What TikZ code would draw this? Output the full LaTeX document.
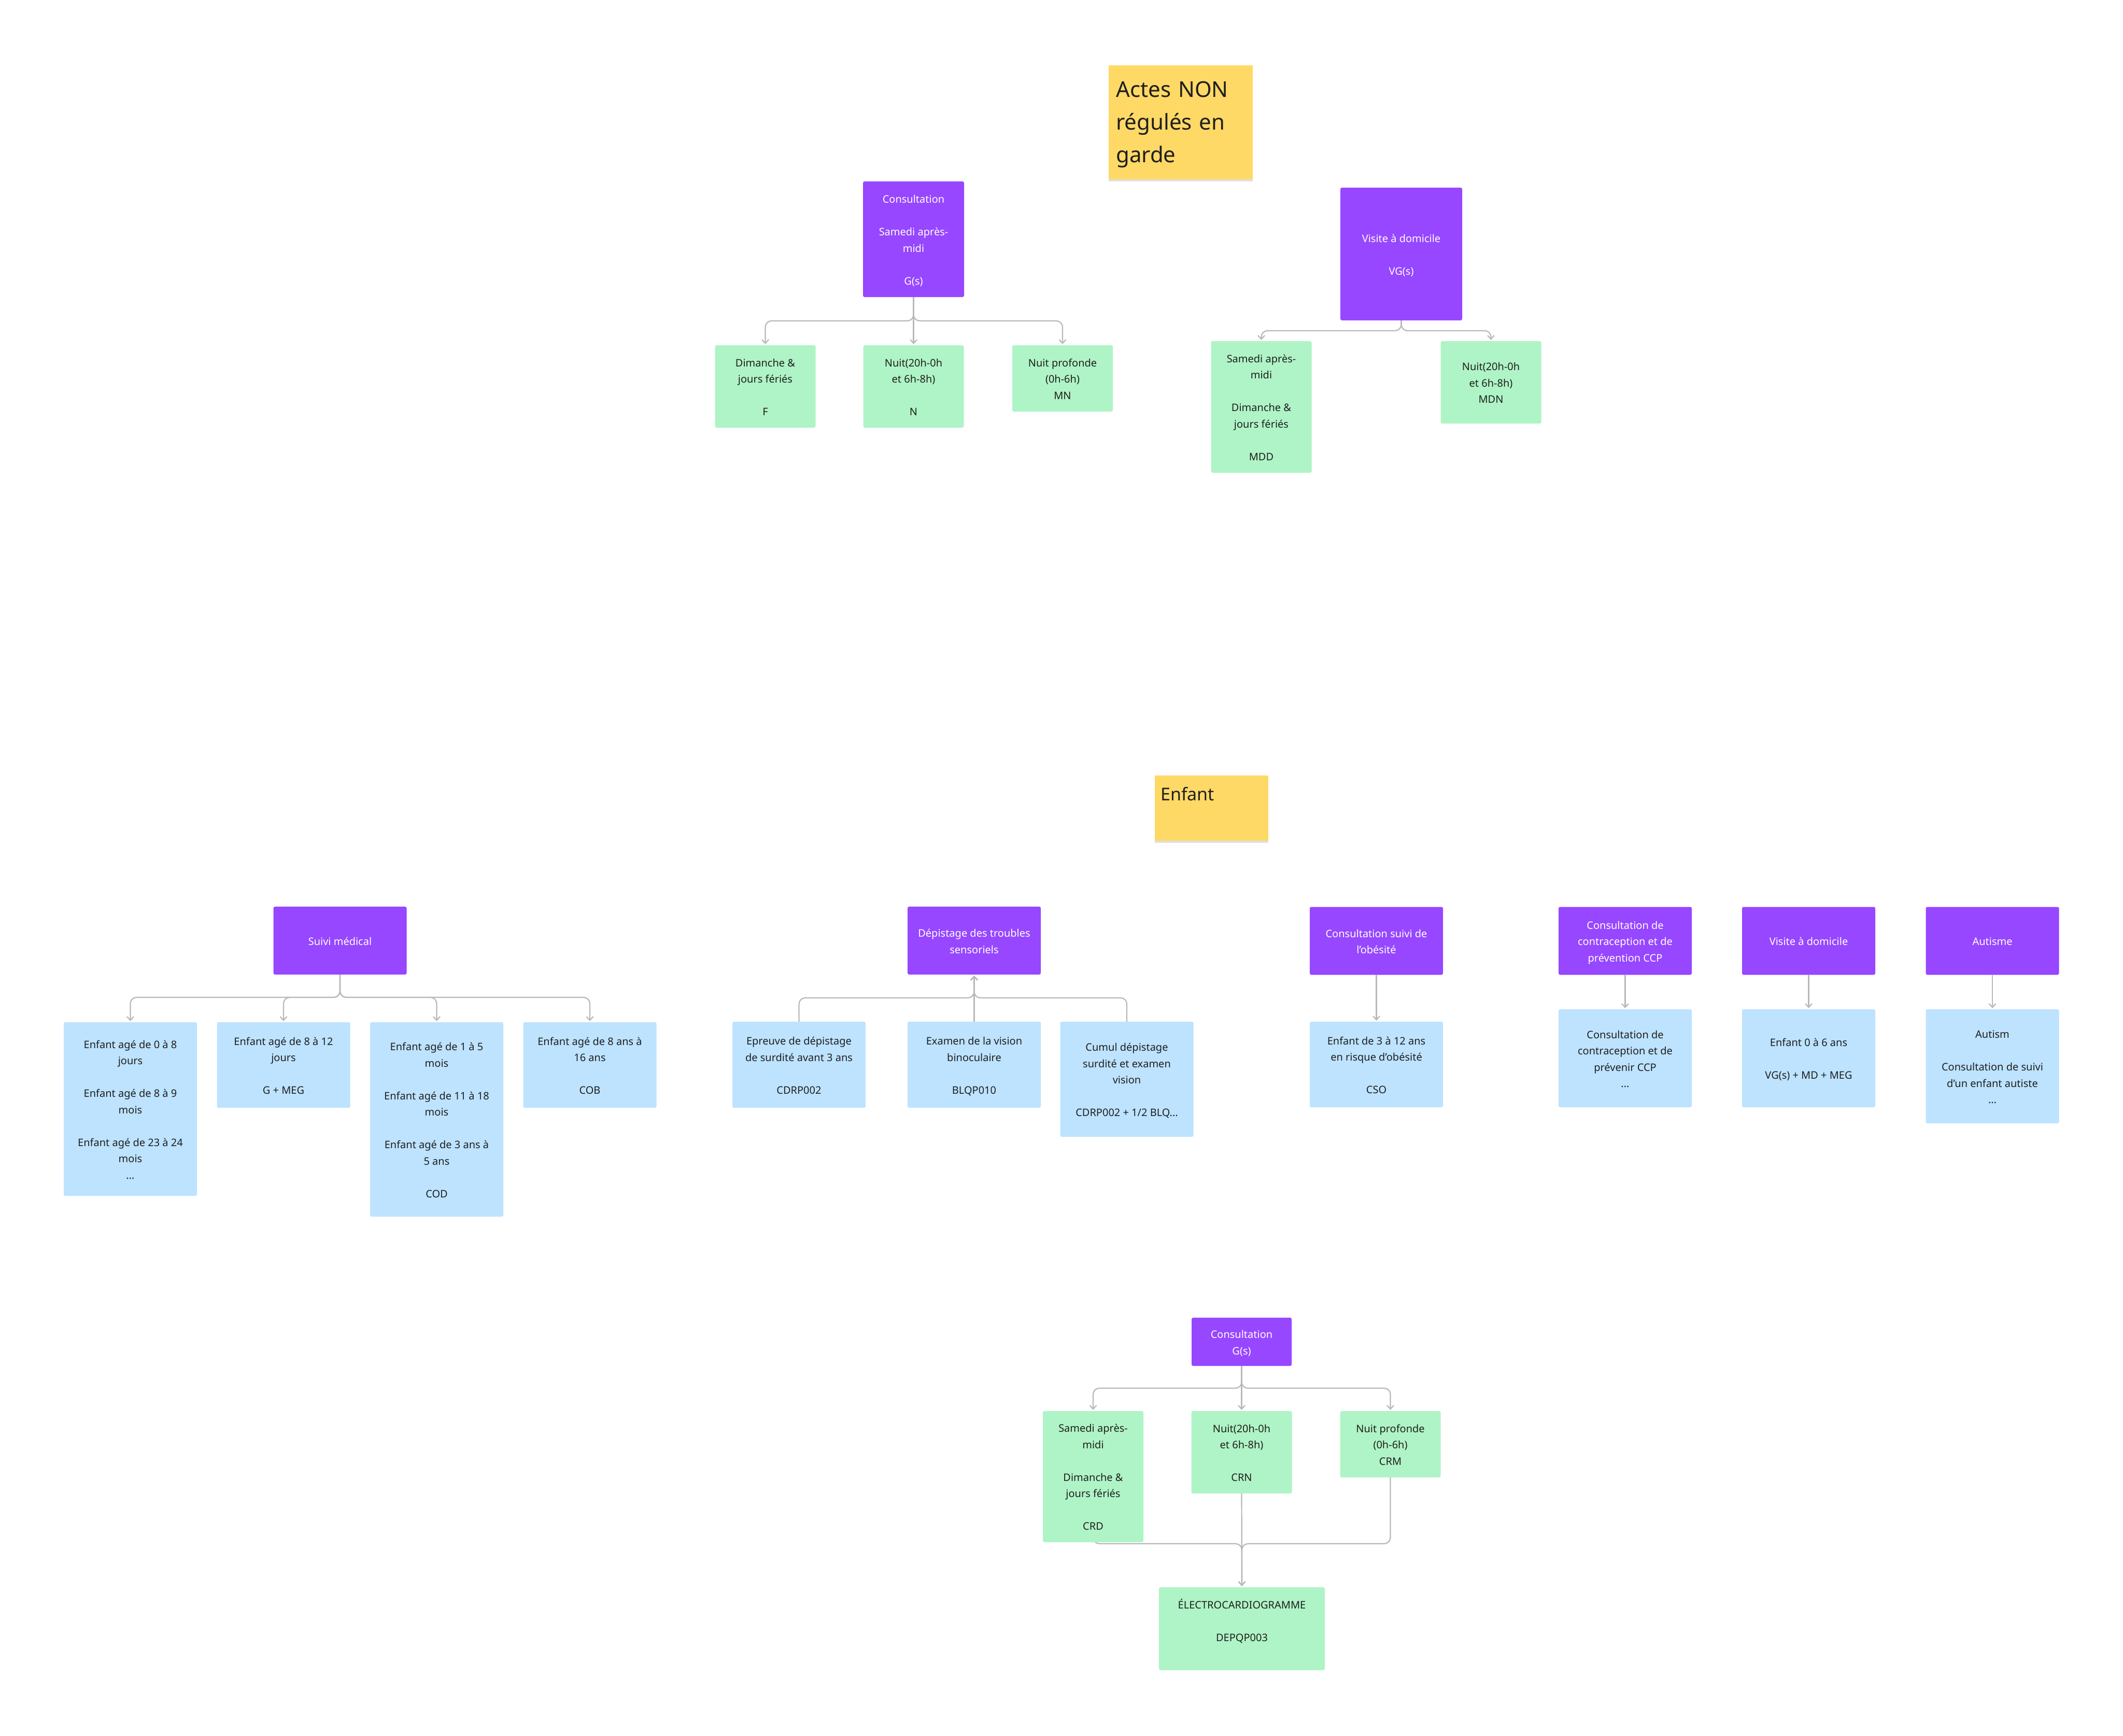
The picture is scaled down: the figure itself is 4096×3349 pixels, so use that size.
\documentclass[tikz,border=0pt]{standalone}
\usepackage{fontspec}
\setmainfont{Noto Sans}
\usetikzlibrary{arrows.meta,shadows}
\definecolor{purp}{HTML}{9747FF}
\definecolor{grn}{HTML}{AFF4C6}
\definecolor{blu}{HTML}{BDE3FF}
\definecolor{yel}{HTML}{FFD966}
\definecolor{txt}{HTML}{1E1E1E}
\definecolor{lgray}{HTML}{B8B8B8}
\pgfdeclarelayer{bglayer}
\pgfdeclarelayer{lines}
\pgfsetlayers{bglayer,lines,main}
\newcommand{\BL}{\\[31.5pt]}
\newcommand{\T}{\rule{0pt}{27pt}}
\tikzset{
  base/.style={inner sep=0pt, rounded corners=3pt, align=center,
    font=\fontsize{20}{31.5}\selectfont, execute at end node=\strut},
  pur/.style={base, fill=purp, text=white},
  grnbox/.style={base, fill=grn, text=txt},
  blubox/.style={base, fill=blu, text=txt},
  sz/.style 2 args={minimum width=#1pt, minimum height=#2pt},
  sticky/.style={fill=yel, text=txt, align=left, inner ysep=0pt,
    drop shadow={shadow xshift=0pt, shadow yshift=-4pt, opacity=0.12, fill=black}},
  conn/.style={draw=lgray, line width=2.2pt, rounded corners=12pt,
    -{Straight Barb[length=7pt,width=13pt]}, shorten >=2pt},
}
\begin{document}
\begin{tikzpicture}[x=1pt,y=-1pt]
\useasboundingbox (0,0) rectangle (4096,3349);
\begin{pgfonlayer}{bglayer}
\fill[white] (0,0) rectangle (4096,3349);
\end{pgfonlayer}

% ---------- top section ----------
\node[sticky, anchor=north west, text width=250pt, text height=61pt, text depth=159pt,
  inner xsep=14pt, font=\fontsize{42}{63}\selectfont] (actes) at (2139,126)
  {Actes NON\\régulés en\\garde};

\node[pur, sz={195}{223}] (cons) at (1762.5,461.5) {\T Consultation\BL Samedi après-\\midi\BL G(s)};
\node[pur, sz={235}{256}] (vis) at (2703.5,490) {\T Visite à domicile\BL VG(s)};

\node[grnbox, sz={194}{159}] (fb) at (1476.5,745.5) {\T Dimanche \&\\jours fériés\BL F};
\node[grnbox, sz={194}{159}] (nb) at (1762.5,745.5) {\T Nuit(20h-0h\\et 6h-8h)\BL N};
\node[grnbox, sz={194}{128}] (mn) at (2050,730) {\T Nuit profonde\\(0h-6h)\\MN};
\node[grnbox, sz={194}{254}] (mdd) at (2433.5,785) {\T Samedi après-\\midi\BL Dimanche \&\\jours fériés\BL MDD};
\node[grnbox, sz={194}{159}] (mdn) at (2876.5,737.5) {\T Nuit(20h-0h\\et 6h-8h)\\MDN};

% ---------- middle section ----------
\node[sticky, anchor=north west, text width=197pt, text height=48pt, text depth=78pt,
  inner xsep=11pt, font=\fontsize{34}{48}\selectfont] (enfant) at (2228,1496) {Enfant};

\node[pur, sz={257}{131}] (suivi) at (656,1814.5) {\T Suivi médical};
\node[blubox, sz={257}{335}] (s1) at (251.5,2139.5) {\T Enfant agé de 0 à 8\\jours\BL Enfant agé de 8 à 9\\mois\BL Enfant agé de 23 à 24\\mois\\...};
\node[blubox, sz={257}{165}] (s2) at (547,2054.5) {\T Enfant agé de 8 à 12\\jours\BL G + MEG};
\node[blubox, sz={257}{375}] (s3) at (842.5,2159.5) {\T Enfant agé de 1 à 5\\mois\BL Enfant agé de 11 à 18\\mois\BL Enfant agé de 3 ans à\\5 ans\BL COD};
\node[blubox, sz={257}{165}] (s4) at (1138,2054.5) {\T Enfant agé de 8 ans à\\16 ans\BL COB};

\node[pur, sz={257}{131}] (dep) at (1879.5,1814.5) {\T Dépistage des troubles\\sensoriels};
\node[blubox, sz={257}{166}] (d1) at (1541.5,2054) {\T Epreuve de dépistage\\de surdité avant 3 ans\BL CDRP002};
\node[blubox, sz={257}{166}] (d2) at (1879.5,2054) {\T Examen de la vision\\binoculaire\BL BLQP010};
\node[blubox, sz={257}{222}] (d3) at (2174,2082) {\T Cumul dépistage\\surdité et examen\\vision\BL CDRP002 + 1/2 BLQ...};

\node[pur, sz={257}{131}] (obe) at (2655.5,1815) {\T Consultation suivi de\\l’obésité};
\node[blubox, sz={257}{165}] (obec) at (2655.5,2053.5) {\T Enfant de 3 à 12 ans\\en risque d’obésité\BL CSO};

\node[pur, sz={257}{131}] (ccp) at (3135.5,1815) {\T Consultation de\\contraception et de\\prévention CCP};
\node[blubox, sz={257}{189}] (ccpc) at (3135.5,2041.5) {\T Consultation de\\contraception et de\\prévenir CCP\\...};

\node[pur, sz={257}{131}] (vad) at (3489.5,1815) {\T Visite à domicile};
\node[blubox, sz={257}{189}] (vadc) at (3489.5,2041.5) {\T Enfant 0 à 6 ans\BL VG(s) + MD + MEG};

\node[pur, sz={257}{131}] (aut) at (3844,1815) {\T Autisme};
\node[blubox, sz={257}{220}] (autc) at (3844,2057) {\T Autism\BL Consultation de suivi\\d’un enfant autiste\\...};

% ---------- bottom section ----------
\node[pur, sz={193}{93}] (cg) at (2395.5,2588.5) {\T Consultation\\G(s)};
\node[grnbox, sz={194}{253}] (crd) at (2109,2848.5) {\T Samedi après-\\midi\BL Dimanche \&\\jours fériés\BL CRD};
\node[grnbox, sz={194}{159}] (crn) at (2395.5,2801.5) {\T Nuit(20h-0h\\et 6h-8h)\BL CRN};
\node[grnbox, sz={194}{128}] (crm) at (2682.5,2786) {\T Nuit profonde\\(0h-6h)\\CRM};
\node[grnbox, sz={320}{160}] (ecg) at (2396,3142) {\T ÉLECTROCARDIOGRAMME\BL DEPQP003\\};

% ---------- connectors ----------
\coordinate (h1) at (0,619);
\coordinate (h2) at (0,638);
\coordinate (hs) at (0,1924);
\coordinate (hd) at (0,1925);
\coordinate (hb) at (0,2678);
\coordinate (he) at (0,2978);
\begin{pgfonlayer}{lines}
\draw[conn] (cons.south) -- (cons.south |- h1) -- (fb.north |- h1) -- (fb.north);
\draw[conn] (cons.south) -- (nb.north);
\draw[conn] (cons.south) -- (cons.south |- h1) -- (mn.north |- h1) -- (mn.north);

\draw[conn] (vis.south) -- (vis.south |- h2) -- (mdd.north |- h2) -- (mdd.north);
\draw[conn] (vis.south) -- (vis.south |- h2) -- (mdn.north |- h2) -- (mdn.north);

\foreach \c in {s1,s2,s3,s4}
  \draw[conn] (suivi.south) -- (suivi.south |- hs) -- (\c.north |- hs) -- (\c.north);

\draw[conn] (d1.north) -- (d1.north |- hd) -- (dep.south |- hd) -- (dep.south);
\draw[conn] (d2.north) -- (dep.south);
\draw[conn] (d3.north) -- (d3.north |- hd) -- (dep.south |- hd) -- (dep.south);

\draw[conn] (obe.south) -- (obec.north);
\draw[conn] (ccp.south) -- (ccpc.north);
\draw[conn] (vad.south) -- (vadc.north);
\draw[conn] (aut.south) -- (autc.north);

\draw[conn] (cg.south) -- (cg.south |- hb) -- (crd.north |- hb) -- (crd.north);
\draw[conn] (cg.south) -- (crn.north);
\draw[conn] (cg.south) -- (cg.south |- hb) -- (crm.north |- hb) -- (crm.north);

\draw[conn] (crd.center) -- (crd.center |- he) -- (ecg.north |- he) -- (ecg.north);
\draw[conn] (crn.south) -- (ecg.north);
\draw[conn] (crm.south) -- (crm.south |- he) -- (ecg.north |- he) -- (ecg.north);
\end{pgfonlayer}
\end{tikzpicture}
\end{document}
